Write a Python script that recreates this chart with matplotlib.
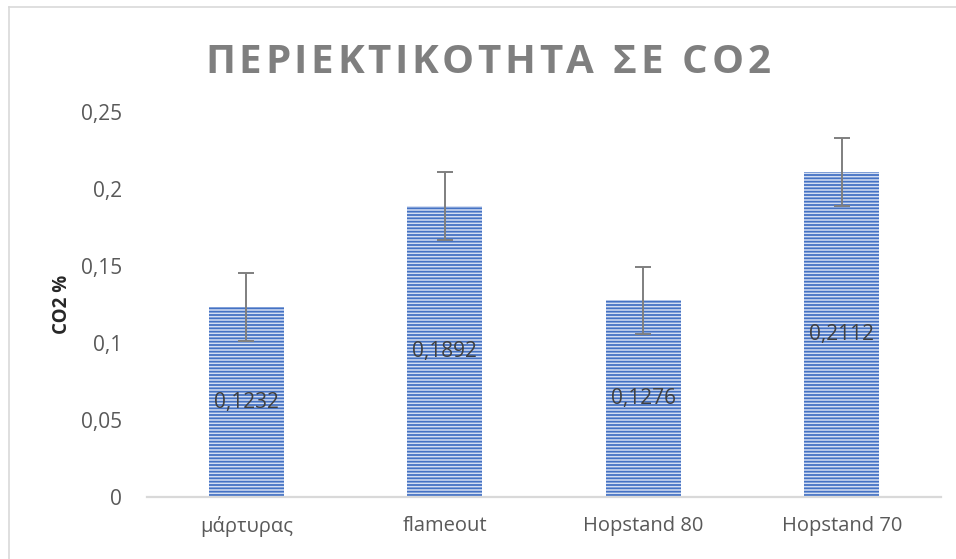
import numpy as np
import matplotlib.pyplot as plt
from matplotlib.lines import Line2D

plt.rcParams['font.family'] = ['Open Sans', 'DejaVu Sans']
plt.rcParams['hatch.linewidth'] = 1.3

# data
categories = ["μάρτυρας", "flameout", "Hopstand 80", "Hopstand 70"]
co2 = [0.1232, 0.1892, 0.1276, 0.2112]
err = [0.022, 0.022, 0.022, 0.022]
value_labels = ["0,1232", "0,1892", "0,1276", "0,2112"]
yticks = [0, 0.05, 0.1, 0.15, 0.2, 0.25]
ytick_labels = ["0", "0,05", "0,1", "0,15", "0,2", "0,25"]
title = "ΠΕΡΙΕΚΤΙΚΟΤΗΤΑ ΣΕ CO2"

W, H = 956, 559
fig = plt.figure(figsize=(W / 100, H / 100), dpi=100)
ax = fig.add_axes([147 / W, 1 - 497 / H, 794 / W, 385 / H])

x = np.arange(len(categories))
ax.bar(x, co2, width=0.38, color='#d4def2', edgecolor='#4472c4',
       hatch='-----', linewidth=0, zorder=2)
ax.errorbar(x, co2, yerr=err, fmt='none', ecolor='#7f7f7f',
            elinewidth=1.4, capsize=5.5, capthick=1.4, zorder=3)

for xi, v, lab in zip(x, co2, value_labels):
    ax.text(xi, v / 2, lab, ha='center', va='center', fontsize=15,
            color='#404040', zorder=4)

ax.set_xlim(-0.5, 3.5)
ax.set_ylim(0, 0.25)
ax.set_xticks(x)
ax.set_xticklabels(categories, fontsize=14.5, color='#595959')
ax.set_yticks(yticks)
ax.set_yticklabels(ytick_labels, fontsize=15, color='#595959')
ax.tick_params(axis='x', length=0, pad=14)
ax.tick_params(axis='y', length=0, pad=18)

for s in ['top', 'right', 'left']:
    ax.spines[s].set_visible(False)
ax.spines['bottom'].set_color('#d9d9d9')
ax.spines['bottom'].set_linewidth(1.6)

ax.set_ylabel("CO2 %", fontsize=13.5, fontweight='bold', color='#262626', labelpad=6)

# title with letter spacing: place characters one by one
renderer = fig.canvas.get_renderer()
tkw = dict(fontsize=29, fontweight='bold', color='#7f7f7f', va='baseline', ha='left')
widths = []
for ch in title:
    t = fig.text(0, 0, ch if ch != ' ' else 'n', **tkw)
    w = t.get_window_extent(renderer).width
    widths.append(w * 0.45 if ch == ' ' else w)
    t.remove()
target_left, target_right = 205, 770
gap = (target_right - target_left - sum(widths)) / (len(title) - 1)
xpos = target_left
for ch, w in zip(title, widths):
    if ch != ' ':
        fig.text(xpos / W, 1 - 73 / H, ch, **tkw)
    xpos += w + gap

# chart border (left and top edges visible)
fig.add_artist(Line2D([8.5 / W, 8.5 / W], [0, 1 - 7 / H], transform=fig.transFigure,
                      color='#d9d9d9', linewidth=1.2))
fig.add_artist(Line2D([8.5 / W, 1], [1 - 7 / H, 1 - 7 / H], transform=fig.transFigure,
                      color='#d9d9d9', linewidth=1.2))

fig.savefig("out.png", dpi=100)
